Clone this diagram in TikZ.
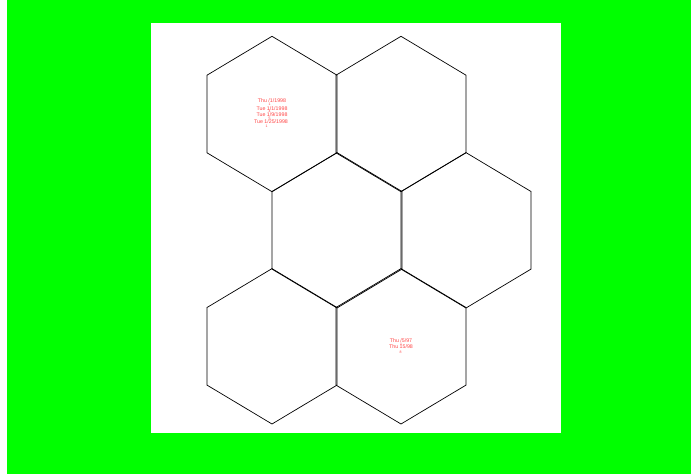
\documentclass[tikz,border=0pt]{standalone}
\usepackage{fontspec}
\setmainfont{Liberation Sans}
\usepackage{xcolor}
\usepackage{tikz}
\usetikzlibrary{positioning}
\definecolor{screengreen}{RGB}{0,255,0}
\definecolor{datered}{RGB}{255,70,70}
\newcommand{\datefont}{\fontsize{4.5}{5}\selectfont}
\newcommand{\tinyfont}{\fontsize{3}{3.2}\selectfont}

\begin{document}
\begin{tikzpicture}[x=0.03cm,y=-0.03cm,
  hexline/.style={black, line width=0.6pt, line join=miter},
  datelabel/.style={text=datered, font=\datefont, inner sep=0pt},
  digitlabel/.style={text=datered, font=\tinyfont, inner sep=0pt}]
\useasboundingbox (0,0) rectangle (691,474);
\fill[white] (0,0) rectangle (691,474);
\fill[screengreen] (7,0) rectangle (691,474);
\fill[white] (151,23.3) rectangle (560.5,433);

% honeycomb
\foreach \cx/\cy in {272/114, 401/114, 337/230.3, 466/230.3, 272/346.3, 401/346.3}
  \draw[hexline] (\cx,\cy-77.7) -- (\cx+65,\cy-38.8) -- (\cx+65,\cy+38.8)
    -- (\cx,\cy+77.7) -- (\cx-65,\cy+38.8) -- (\cx-65,\cy-38.8) -- cycle;

% dates, upper left cell
\node[datelabel] (dA1) at (272,101) {Thu /1/1998};
\node[datelabel] (dA2) at (272,108.5) {Tue 1/1/1998};
\node[datelabel] (dA3) at (272,115) {Tue 1/9/1998};
\node[datelabel] (dA4) at (271,122) {Tue 1/25/1998};
\node[digitlabel] (nA1) at (269.5,104.5) {1};
\node[digitlabel] (nA2) at (269.5,111.5) {4};
\node[digitlabel] (nA3) at (269.5,118.5) {5};
\node[digitlabel] (nA4) at (266.5,126) {1};

% dates, lower right cell
\node[datelabel] (dF1) at (401,341) {Thu /5/97};
\node[datelabel] (dF2) at (401,347) {Thu 15/98};
\node[digitlabel] (nF1) at (401,344) {1};
\node[digitlabel] (nF2) at (400.5,352.5) {8};
\end{tikzpicture}
\end{document}
